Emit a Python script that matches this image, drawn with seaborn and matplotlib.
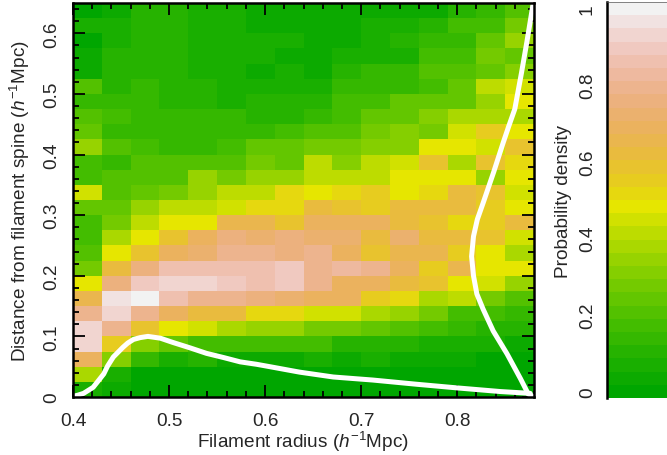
import colorsys
import numpy as np
import seaborn as sns
import matplotlib
matplotlib.use("Agg")
import matplotlib.pyplot as plt
from matplotlib.colors import ListedColormap
from matplotlib.ticker import MultipleLocator

sns.set_theme(style="white")
plt.rcParams["font.family"] = ["Liberation Sans", "DejaVu Sans"]
plt.rcParams["mathtext.fontset"] = "custom"
plt.rcParams["mathtext.it"] = "Liberation Sans:italic"
plt.rcParams["mathtext.rm"] = "Liberation Sans"

# colour band of each cell (0-29, top row first), density = band / 29
row_00 = [0, 1, 3, 3, 2, 2, 1, 1, 1, 1, 1, 1, 1, 3, 4, 6]
row_01 = [2, 2, 3, 3, 2, 2, 1, 1, 1, 1, 2, 2, 3, 5, 5, 8]
row_02 = [0, 2, 3, 3, 2, 2, 2, 2, 1, 1, 2, 3, 4, 4, 7, 10]
row_03 = [1, 3, 3, 3, 2, 2, 2, 1, 1, 2, 2, 2, 5, 5, 8, 7]
row_04 = [1, 3, 3, 3, 2, 2, 1, 2, 1, 3, 4, 4, 6, 6, 7, 9]
row_05 = [6, 3, 4, 3, 3, 2, 2, 2, 2, 4, 4, 4, 5, 7, 12, 13]
row_06 = [4, 4, 4, 3, 3, 2, 3, 3, 3, 5, 5, 7, 7, 7, 10, 14]
row_07 = [6, 5, 4, 4, 4, 4, 3, 3, 4, 5, 7, 7, 9, 11, 11, 11]
row_08 = [7, 4, 4, 4, 4, 4, 4, 5, 6, 6, 8, 9, 8, 13, 16, 14]
row_09 = [10, 6, 5, 4, 4, 5, 7, 7, 8, 8, 9, 9, 14, 14, 13, 17]
row_10 = [5, 4, 6, 6, 6, 6, 8, 7, 12, 9, 12, 13, 17, 11, 17, 15]
row_11 = [5, 6, 6, 6, 10, 8, 10, 10, 12, 12, 12, 14, 14, 14, 10, 14]
row_12 = [13, 6, 7, 8, 10, 12, 12, 15, 14, 15, 16, 14, 15, 18, 17, 13]
row_13 = [7, 7, 10, 12, 12, 13, 15, 15, 18, 17, 16, 18, 18, 18, 16, 14]
row_14 = [5, 8, 12, 14, 14, 19, 19, 17, 20, 20, 20, 18, 17, 15, 16, 18]
row_15 = [5, 11, 14, 17, 20, 22, 21, 22, 21, 21, 18, 21, 18, 18, 17, 13]
row_16 = [6, 14, 17, 20, 21, 23, 23, 22, 23, 20, 17, 19, 19, 16, 14, 11]
row_17 = [8, 18, 22, 25, 25, 25, 25, 26, 23, 24, 23, 20, 16, 19, 14, 14]
row_18 = [14, 22, 26, 27, 27, 26, 25, 26, 23, 20, 20, 18, 17, 14, 13, 10]
row_19 = [19, 28, 29, 25, 23, 23, 22, 21, 20, 20, 16, 15, 11, 12, 8, 6]
row_20 = [23, 27, 23, 20, 18, 18, 15, 15, 13, 13, 11, 10, 8, 5, 5, 4]
row_21 = [27, 23, 17, 14, 13, 11, 10, 10, 8, 8, 7, 6, 5, 4, 3, 3]
row_22 = [27, 16, 9, 7, 5, 5, 5, 5, 5, 3, 3, 3, 2, 2, 2, 1]
row_23 = [20, 9, 4, 2, 3, 1, 1, 1, 2, 1, 2, 1, 1, 1, 0, 0]
row_24 = [11, 2, 0, 0, 0, 0, 0, 0, 0, 0, 0, 0, 0, 0, 0, 0]
row_25 = [2, 1, 0, 0, 0, 0, 0, 0, 0, 0, 0, 0, 0, 0, 0, 0]

# white curves
radius_x = [0.400, 0.405, 0.411, 0.416, 0.421, 0.426, 0.432, 0.436, 0.442, 0.447, 0.452,
            0.457, 0.463, 0.470, 0.478, 0.491, 0.504, 0.522, 0.539, 0.557, 0.574, 0.591,
            0.605, 0.636, 0.671, 0.712, 0.758, 0.800, 0.845, 0.876]
radius_y = [0.001, 0.003, 0.006, 0.011, 0.016, 0.026, 0.038, 0.051, 0.066, 0.074, 0.082,
            0.089, 0.095, 0.098, 0.100, 0.097, 0.090, 0.081, 0.072, 0.065, 0.058, 0.054,
            0.050, 0.041, 0.033, 0.028, 0.021, 0.015, 0.009, 0.006]
spine_x = [0.880, 0.874, 0.866, 0.852, 0.8375, 0.827, 0.8205, 0.817, 0.815, 0.817, 0.821,
           0.827, 0.838, 0.848, 0.854, 0.860, 0.8635, 0.867, 0.8725, 0.879]
spine_y = [0.000, 0.005, 0.030, 0.071, 0.109, 0.145, 0.170, 0.200, 0.232, 0.265, 0.293,
           0.320, 0.371, 0.420, 0.448, 0.475, 0.505, 0.535, 0.585, 0.648]

x_label = r"Filament radius ($h^{-1}$Mpc)"
y_label = r"Distance from filament spine ($h^{-1}$Mpc)"
cbar_label = "Probability density"
x_ticks = [0.4, 0.5, 0.6, 0.7, 0.8]
x_tick_labels = ["0.4", "0.5", "0.6", "0.7", "0.8"]
y_ticks = [0, 0.1, 0.2, 0.3, 0.4, 0.5, 0.6]
y_tick_labels = ["0", "0.1", "0.2", "0.3", "0.4", "0.5", "0.6"]
cbar_ticks = [0, 0.2, 0.4, 0.6, 0.8, 1]
cbar_tick_labels = ["0", "0.2", "0.4", "0.6", "0.8", "1"]


# same as R terrain.colors(30)
def terrain_colors(n):
    k = n // 2
    out = []
    for t in np.linspace(0, 1, k):
        out.append(colorsys.hsv_to_rgb((4 - 2 * t) / 12, 1, 0.65 + 0.25 * t))
    for t in np.linspace(0, 1, n - k + 1)[1:]:
        out.append(colorsys.hsv_to_rgb((2 - 2 * t) / 12, 1 - t, 0.9 + 0.05 * t))
    return out


W, H = 667, 456
FS = 13.7


def box(left, top, right, bottom):
    return [left / W, 1 - bottom / H, (right - left) / W, (bottom - top) / H]


rows = [row_00, row_01, row_02, row_03, row_04, row_05, row_06, row_07, row_08, row_09,
        row_10, row_11, row_12, row_13, row_14, row_15, row_16, row_17, row_18, row_19,
        row_20, row_21, row_22, row_23, row_24, row_25]
density = np.array(rows) / 29

fig = plt.figure(figsize=(W / 100, H / 100), dpi=100)
ax = fig.add_axes(box(73, 4, 534, 398))
cax = fig.add_axes(box(607, 3, 668, 399))

sns.heatmap(density, ax=ax, cbar_ax=cax, cmap=ListedColormap(terrain_colors(30)),
            vmin=-0.5 / 29, vmax=29.5 / 29, xticklabels=False, yticklabels=False)

# second axes on top with the real data coords
top = fig.add_axes(box(73, 4, 534, 398), facecolor="none")
sns.lineplot(x=radius_x, y=radius_y, ax=top, color="white", lw=3.6, sort=False, estimator=None)
sns.lineplot(x=spine_x, y=spine_y, ax=top, color="white", lw=3.6, sort=False, estimator=None)
top.set_xlim(0.4, 0.88)
top.set_ylim(0, 0.65)
top.set_xticks(x_ticks)
top.set_xticklabels(x_tick_labels, fontsize=FS)
top.set_yticks(y_ticks)
top.set_yticklabels(y_tick_labels, fontsize=FS, rotation=90, va="center")
top.xaxis.set_minor_locator(MultipleLocator(0.02))
top.yaxis.set_minor_locator(MultipleLocator(0.02))
top.tick_params(axis="both", which="both", direction="in", width=1.3, color="black",
                top=True, bottom=True, left=True, right=True)
top.tick_params(axis="both", which="major", length=8.5)
top.tick_params(axis="both", which="minor", length=4.2)
top.tick_params(axis="x", which="major", pad=11)
top.tick_params(axis="y", which="major", pad=9)
top.set_xlabel(x_label, fontsize=FS, labelpad=0)
top.set_ylabel(y_label, fontsize=FS, labelpad=8)
for s in top.spines.values():
    s.set_visible(True)
    s.set_color("black")
    s.set_linewidth(1.8)

cb = ax.collections[0].colorbar
cb.set_ticks(cbar_ticks, labels=cbar_tick_labels)
cax.yaxis.set_minor_locator(MultipleLocator(0.05))
cax.tick_params(axis="y", which="both", direction="in", width=1.3, color="black",
                left=True, right=True, labelleft=True, labelright=False)
cax.tick_params(axis="y", which="major", length=8.5, pad=8)
cax.tick_params(axis="y", which="minor", length=4.2)
plt.setp(cax.get_yticklabels(), rotation=90, va="center", fontsize=FS)
cax.yaxis.set_label_position("left")
cax.set_ylabel(cbar_label, fontsize=FS, labelpad=5)
cb.outline.set_visible(False)
cax.spines["left"].set_visible(True)
cax.spines["left"].set_color("black")
cax.spines["left"].set_linewidth(1.8)
cax.spines["top"].set_visible(True)
cax.spines["top"].set_color("#555555")
cax.spines["top"].set_linewidth(0.5)

fig.savefig("out.png", dpi=100)
